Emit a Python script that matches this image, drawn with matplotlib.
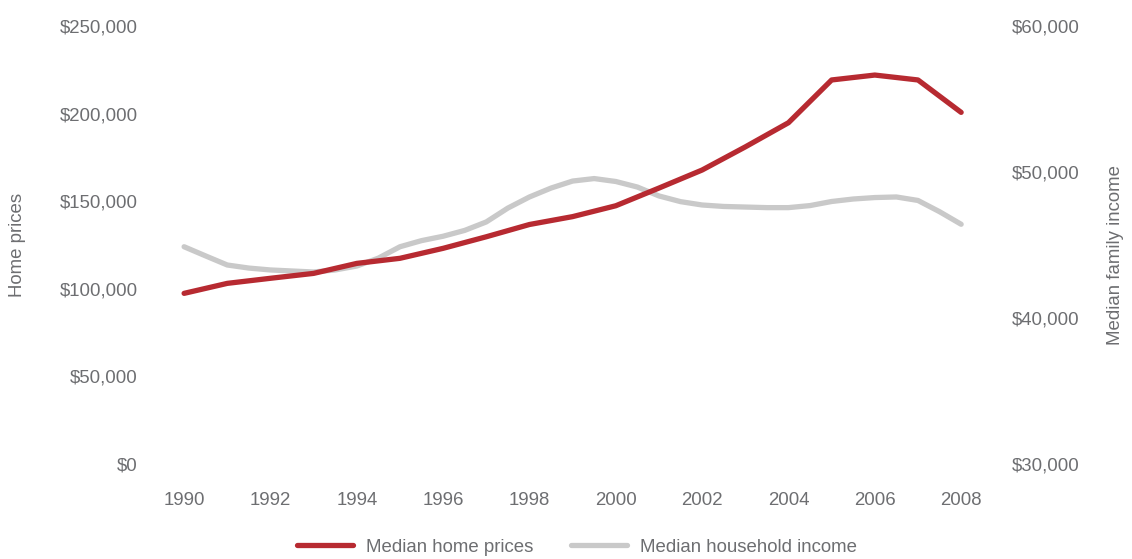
import numpy as np
import matplotlib.pyplot as plt

# median home prices, yearly
years = [1990, 1991, 1992, 1993, 1994, 1995, 1996, 1997, 1998, 1999,
         2000, 2001, 2002, 2003, 2004, 2005, 2006, 2007, 2008]
home_prices = [97400, 103100, 106000, 108800, 114500, 117400, 123100, 129700,
               136700, 141200, 147400, 157500, 167800, 181000, 194800, 219200,
               222000, 219200, 200700]

# median household income, half-yearly
income_years = [1990, 1990.5, 1991, 1991.5, 1992, 1992.5, 1993, 1993.5, 1994,
                1994.5, 1995, 1995.5, 1996, 1996.5, 1997, 1997.5, 1998, 1998.5,
                1999, 1999.5, 2000, 2000.5, 2001, 2001.5, 2002, 2002.5, 2003,
                2003.5, 2004, 2004.5, 2005, 2005.5, 2006, 2006.5, 2007, 2007.5,
                2008]
income = [44880, 44250, 43630, 43420, 43290, 43220, 43150, 43290, 43560,
          44100, 44880, 45300, 45600, 46000, 46580, 47530, 48290, 48900,
          49380, 49550, 49350, 48970, 48360, 47970, 47740, 47640, 47600,
          47560, 47560, 47700, 47980, 48150, 48250, 48290, 48050, 47280,
          46420]

left_ticks = [0, 50000, 100000, 150000, 200000, 250000]
right_ticks = [30000, 40000, 50000, 60000]
x_ticks = list(range(1990, 2009, 2))

red = '#b72a31'
grey = '#c9c9c9'
text_col = '#6d6e71'

plt.rcParams['font.family'] = ['Liberation Sans', 'DejaVu Sans']
plt.rcParams['font.size'] = 13.4

fig = plt.figure(figsize=(11.32, 5.59), dpi=100)
W, H = 1132, 559
ax = fig.add_axes([150 / W, (H - 464) / H, 850 / W, 438 / H])
ax2 = ax.twinx()

l1, = ax.plot(years, home_prices, color=red, lw=3.8, solid_capstyle='round', zorder=3)
l2, = ax2.plot(income_years, income, color=grey, lw=3.8, solid_capstyle='round', zorder=2)
ax.set_zorder(ax2.get_zorder() + 1)
ax.patch.set_visible(False)

ax.set_xlim(1989.21, 2008.9)
ax.set_ylim(0, 250000)
ax2.set_ylim(30000, 60000)

ax.set_xticks(x_ticks)
ax.set_xticklabels([str(y) for y in x_ticks])
ax.set_yticks(left_ticks)
ax.set_yticklabels(['${:,}'.format(v) for v in left_ticks])
ax2.set_yticks(right_ticks)
ax2.set_yticklabels(['${:,}'.format(v) for v in right_ticks])

for a in (ax, ax2):
    for s in a.spines.values():
        s.set_visible(False)
ax.tick_params(axis='x', length=0, pad=20, labelcolor=text_col)
ax.tick_params(axis='y', length=0, pad=9, labelcolor=text_col)
ax2.tick_params(axis='y', length=0, pad=8.5, labelcolor=text_col)

fig.text(18 / W, 1 - 245 / H, 'Home prices', rotation=90, ha='center', va='center',
         color=text_col)
fig.text(1115 / W, 1 - 255 / H, 'Median family income', rotation=90, ha='center',
         va='center', color=text_col)

fig.legend([l1, l2], ['Median home prices', 'Median household income'],
           loc='center', bbox_to_anchor=(577 / W, 1 - 547 / H), ncol=2,
           frameon=False, handlelength=3.0, handletextpad=0.7, columnspacing=2.0,
           labelcolor=text_col)

fig.savefig('out.png', dpi=100)
